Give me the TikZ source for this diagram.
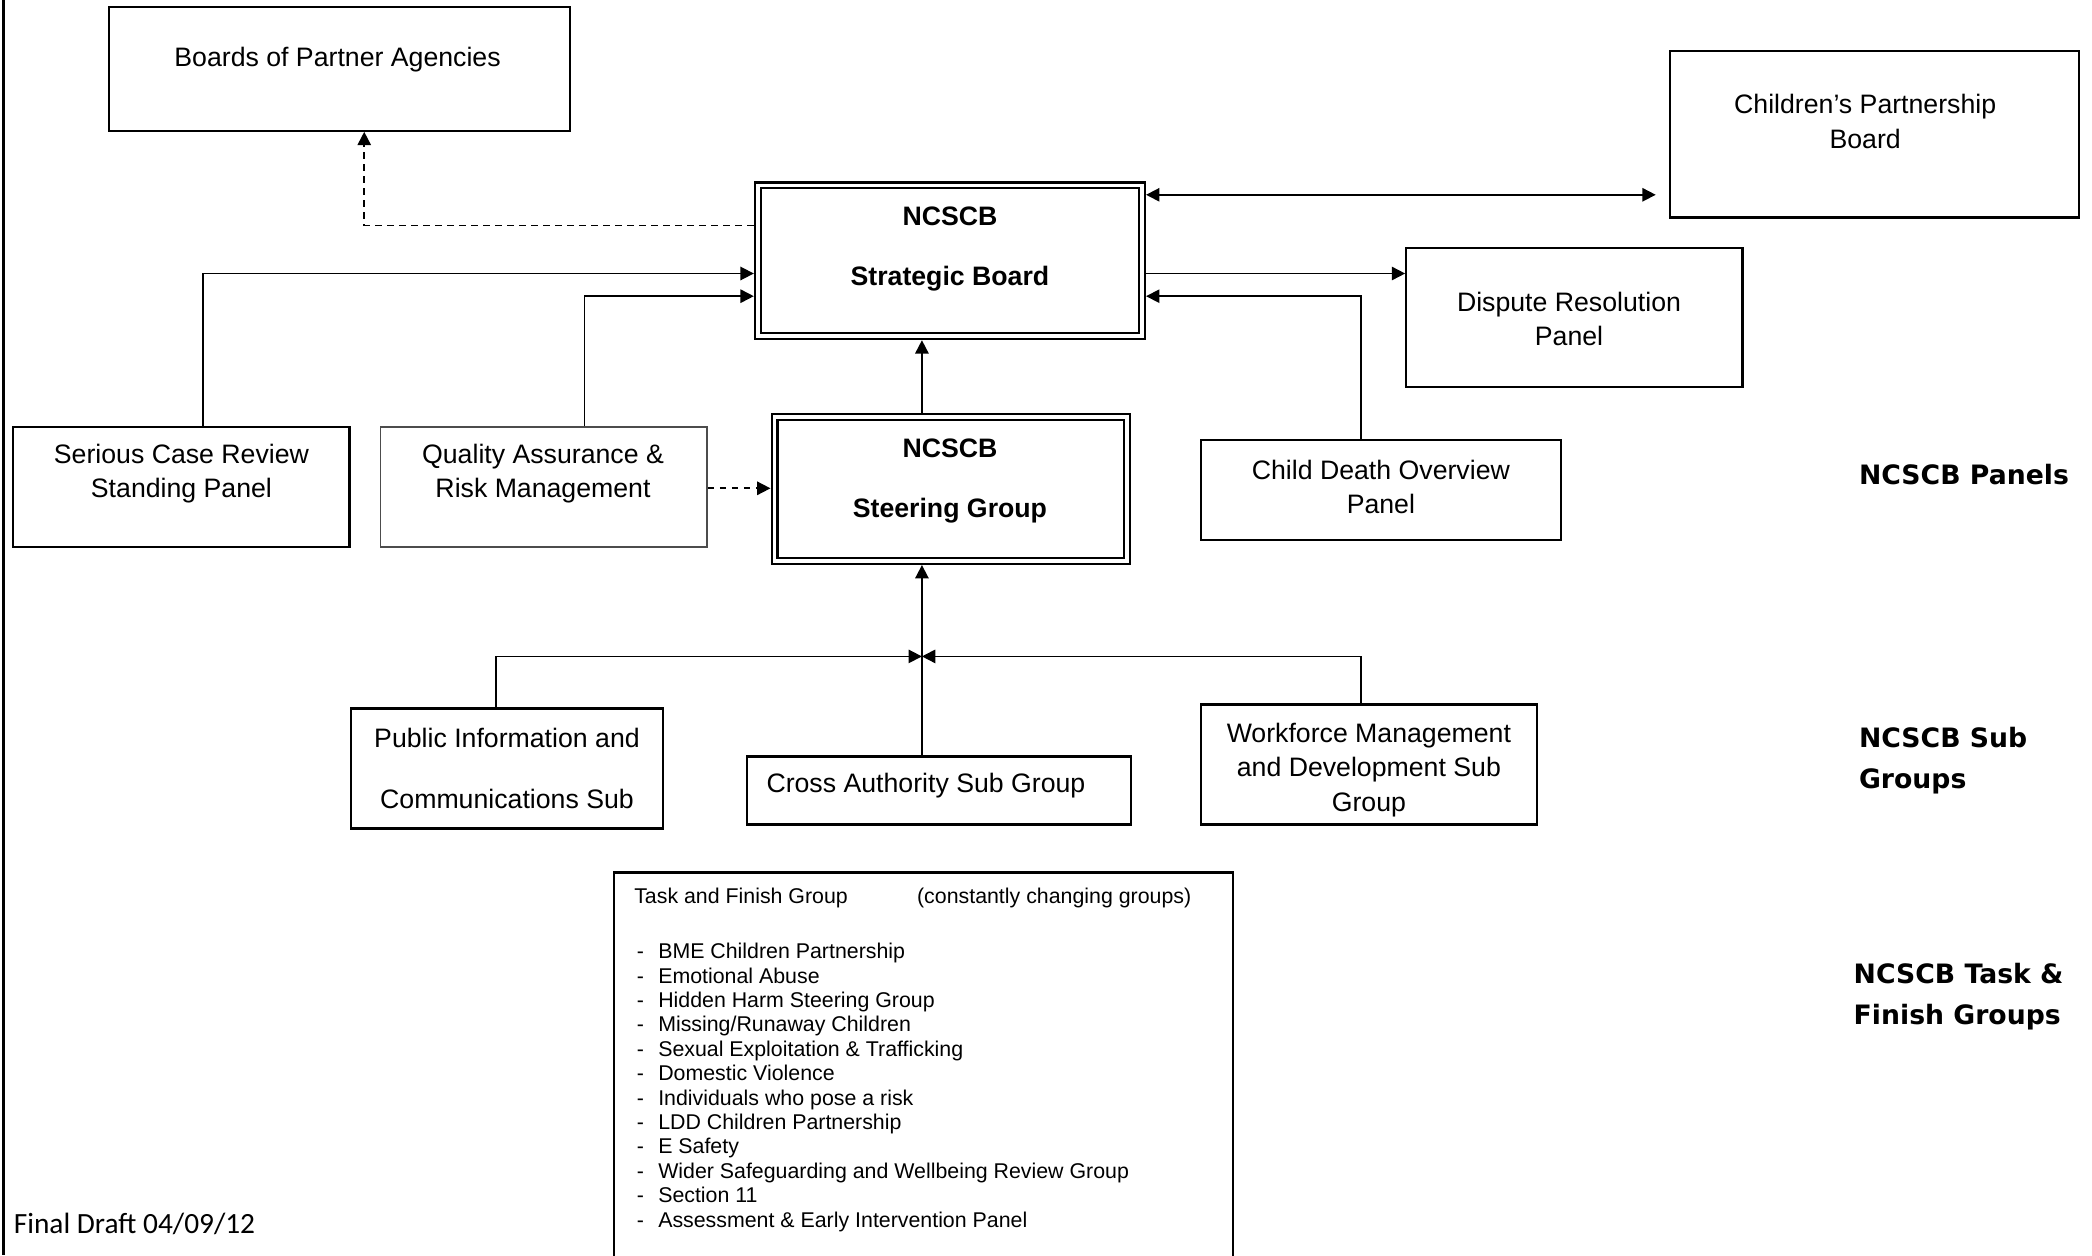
\documentclass[tikz,border=0pt]{standalone}
\usepackage{fontspec}
\setmainfont{Liberation Sans}
\newfontfamily\hdrfont{DejaVu Sans}
\newfontfamily\draftfont{Carlito}
\usetikzlibrary{arrows.meta,fit,calc}
\begin{document}
\begin{tikzpicture}[x=0.5pt,y=-0.5pt,
  box/.style={draw, line width=0.8pt, inner sep=0pt},
  dbox/.style={draw, line width=0.8pt, double, double distance=1.4pt, inner sep=0pt, outer sep=1.5pt},
  txt/.style={align=center, inner sep=0pt, font=\fontsize{10}{13}\selectfont},
  btxt/.style={inner sep=0pt, font=\fontsize{10}{12}\selectfont\bfseries},
  hdr/.style={anchor=west, align=left, inner sep=0pt, font=\hdrfont\fontsize{10}{15.5}\selectfont\bfseries},
  small/.style={anchor=west, inner sep=0pt, font=\fontsize{8}{9.15}\selectfont},
  conn/.style={line width=0.65pt},
  arr/.style={conn, -{Triangle[length=5pt,width=5pt]}},
  darr/.style={arr, dash pattern=on 2.5pt off 2pt},
]
\useasboundingbox (0,0) rectangle (1568,941);
\clip (0,0) rectangle (1568,941);
\fill[white] (0,0) rectangle (1568,941);

% left border
\draw[line width=0.9pt] (2.5,0) -- (2.5,941);

% boxes
\node[box, fit={(82,5) (427,98)}] (boards) {};
\node[txt] (boardsT) at (253,45) {Boards of Partner Agencies};

\node[box, fit={(1252,38) (1558,163)}] (cpb) {};
\node[txt] (cpbT) at (1398,91) {Children’s Partnership\\Board};

\node[dbox, fit={(568,139) (856,252)}] (strat) {};
\node[btxt] (stratA) at (712,162) {NCSCB};
\node[btxt] (stratB) at (712,209) {Strategic Board};

\node[dbox, fit={(580.5,312.5) (844.5,420.5)}] (steer) {};
\node[btxt] (steerA) at (712,336) {NCSCB};
\node[btxt] (steerB) at (712,383) {Steering Group};

\node[box, fit={(1054,186) (1306,290)}] (disp) {};
\node[txt] (dispT) at (1176,239) {Dispute Resolution\\Panel};

\node[box, fit={(10,320) (262,410)}] (scr) {};
\node[txt] (scrT) at (136,355) {Serious Case Review\\Standing Panel};

\node[box, draw=black!70, line width=0.5pt, fit={(285,320) (530,410)}] (qa) {};
\node[txt] (qaT) at (407,355) {Quality Assurance \&\\Risk Management};

\node[box, fit={(900,330) (1170,405)}] (cdop) {};
\node[txt] (cdopT) at (1035,365) {Child Death Overview\\Panel};

\node[box, fit={(263,531) (497,621)}] (pub) {};
\node[txt] (pubT) at (380,576) {Public Information and\\[10pt]Communications Sub};

\node[box, fit={(560,567) (848,618)}] (cross) {};
\node[txt] (crossT) at (694,589) {Cross Authority Sub Group};

\node[box, fit={(900,528) (1152,618)}] (wf) {};
\node[txt] (wfT) at (1026,577) {Workforce Management\\and Development Sub\\Group};

% task and finish box (open at the bottom of the page)
\draw[line width=0.8pt] (460,960) -- (460,654) -- (924,654) -- (924,960);
\node[small] (tfA) at (475,673) {Task and Finish Group};
\node[small] (tfB) at (687,673) {(constantly changing groups)};
\node[small] (tfList) at (477,815.5) {\begin{tabular}{@{}p{8pt}@{}l@{}}
-&BME Children Partnership\\
-&Emotional Abuse\\
-&Hidden Harm Steering Group\\
-&Missing/Runaway Children\\
-&Sexual Exploitation \& Trafficking\\
-&Domestic Violence\\
-&Individuals who pose a risk\\
-&LDD Children Partnership\\
-&E Safety\\
-&Wider Safeguarding and Wellbeing Review Group\\
-&Section 11\\
-&Assessment \& Early Intervention Panel
\end{tabular}};

% headings
\node[hdr] (hP) at (1393,356) {NCSCB Panels};
\node[hdr] (hS) at (1393,570) {NCSCB Sub\\Groups};
\node[hdr] (hT) at (1389,747) {NCSCB Task \&\\Finish Groups};
\node[anchor=west, inner sep=0pt, font=\draftfont\fontsize{11}{13}\selectfont] (draft) at (10,917) {Final Draft 04/09/12};

% helper coordinates
\coordinate (c273) at (273,169);
\coordinate (c1241) at (1241,146);
\coordinate (c205R) at (1054,205);
\coordinate (c222R) at (1020,222);
\coordinate (c205L) at (152,205);
\coordinate (c222L) at (438,222);
\coordinate (c366) at (526,366);
\coordinate (c691) at (691,0);
\coordinate (junc) at (691,492);
\coordinate (c372) at (372,492);
\coordinate (c1020) at (1020,492);

% connectors
\draw[darr] (strat.west |- c273) -| (c273 |- boards.south);
\draw[conn, {Triangle[length=5pt,width=5pt]}-{Triangle[length=5pt,width=5pt]}] (strat.east |- c1241) -- (c1241);
\draw[arr] (strat.east |- c205R) -- (disp.west |- c205R);
\draw[arr] (c222R |- cdop.north) |- (strat.east |- c222R);
\draw[arr] (c205L |- scr.north) |- (strat.west |- c205L);
\draw[arr] (c222L |- qa.north) |- (strat.west |- c222L);
\draw[darr] (qa.east |- c366) -- (steer.west |- c366);
\draw[arr] (c691 |- steer.north) -- (c691 |- strat.south);
\draw[arr] (c691 |- cross.north) -- (c691 |- steer.south);
\draw[arr] (c372 |- pub.north) |- (junc);
\draw[arr] (c1020 |- wf.north) |- (junc);
\end{tikzpicture}
\end{document}
